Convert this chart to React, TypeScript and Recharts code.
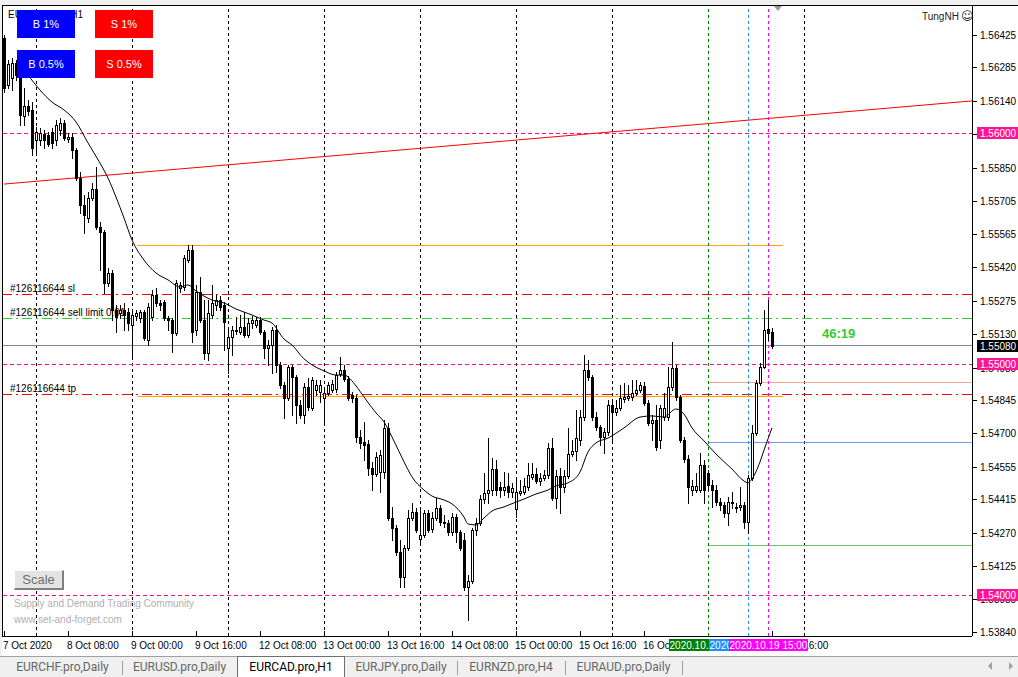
import React from 'react'
import { Bar, ComposedChart, Line, ReferenceLine, XAxis, YAxis } from 'recharts'

const FONT = '"Liberation Sans", Arial, sans-serif'

// EURCAD H1 bars, [open, high, low, close]
const oct07 = [
  [1.56412, 1.56425, 1.56179, 1.56196], [1.56209, 1.56317, 1.56196, 1.563], [1.56239, 1.56326, 1.56187, 1.56304],
  [1.56304, 1.56317, 1.56231, 1.56252], [1.56239, 1.56252, 1.56036, 1.56079], [1.56075, 1.56196, 1.56036, 1.56118],
  [1.56118, 1.56144, 1.56079, 1.56096], [1.56101, 1.56135, 1.55906, 1.55936],
]
const oct08 = [
  [1.55971, 1.56027, 1.55906, 1.56005], [1.55971, 1.56023, 1.55949, 1.56001], [1.55997, 1.56014, 1.55936, 1.55971],
  [1.55992, 1.56005, 1.55945, 1.55953], [1.56005, 1.56023, 1.55936, 1.55958], [1.55971, 1.56057, 1.55949, 1.56036],
  [1.56014, 1.56066, 1.55992, 1.56044], [1.56044, 1.56057, 1.55971, 1.55979], [1.55975, 1.56001, 1.55962, 1.55984],
  [1.55984, 1.56001, 1.55893, 1.55927], [1.55927, 1.55936, 1.55798, 1.55806], [1.55806, 1.55832, 1.55655, 1.55689],
  [1.55689, 1.55733, 1.55568, 1.55646], [1.55633, 1.55746, 1.55616, 1.5572], [1.5572, 1.55785, 1.55711, 1.55759],
  [1.55759, 1.55854, 1.55585, 1.55594], [1.55594, 1.55616, 1.55408, 1.55572], [1.55572, 1.55581, 1.55308, 1.55352],
  [1.55352, 1.55417, 1.55339, 1.55395], [1.55395, 1.55408, 1.55191, 1.55235], [1.55235, 1.55256, 1.55139, 1.55204],
  [1.55222, 1.55256, 1.552, 1.55235], [1.55235, 1.55265, 1.55148, 1.55213], [1.55226, 1.55243, 1.55148, 1.55178],
]
const oct09 = [
  [1.5517, 1.55226, 1.55027, 1.55213], [1.55209, 1.55235, 1.55191, 1.55222], [1.552, 1.55235, 1.55183, 1.55226],
  [1.55226, 1.55235, 1.55105, 1.55113], [1.55105, 1.55265, 1.55083, 1.55248], [1.55204, 1.55321, 1.55191, 1.553],
  [1.553, 1.5533, 1.55252, 1.55265], [1.55265, 1.55278, 1.55235, 1.55256], [1.55269, 1.55278, 1.55191, 1.552],
  [1.552, 1.55209, 1.55148, 1.55191], [1.55191, 1.552, 1.55053, 1.55135], [1.55135, 1.55365, 1.55126, 1.55352],
  [1.5533, 1.55356, 1.55313, 1.55343], [1.55334, 1.55473, 1.55321, 1.5546], [1.55451, 1.55516, 1.55443, 1.55494],
  [1.55494, 1.55516, 1.55096, 1.55139], [1.55148, 1.55343, 1.55126, 1.55313], [1.55313, 1.55378, 1.55183, 1.55191],
  [1.55191, 1.55278, 1.55023, 1.55049], [1.55049, 1.55278, 1.55018, 1.55222], [1.55213, 1.55343, 1.552, 1.55265],
  [1.55256, 1.553, 1.55235, 1.55278], [1.55278, 1.55295, 1.55235, 1.55248], [1.55256, 1.55269, 1.55061, 1.55183],
]
const oct12 = [
  [1.5507, 1.55157, 1.54962, 1.55118], [1.55118, 1.55165, 1.5504, 1.55148], [1.55144, 1.55204, 1.55131, 1.55148],
  [1.55139, 1.55213, 1.55131, 1.55161], [1.55161, 1.55226, 1.55118, 1.55126], [1.55126, 1.552, 1.55118, 1.55178],
  [1.55178, 1.55209, 1.55157, 1.55191], [1.5517, 1.55204, 1.55161, 1.55191], [1.55191, 1.55204, 1.55131, 1.55139],
  [1.55139, 1.55148, 1.55027, 1.5507], [1.5507, 1.55105, 1.54997, 1.55083], [1.55083, 1.55161, 1.54962, 1.55148],
  [1.55148, 1.5517, 1.54966, 1.54997], [1.54997, 1.5501, 1.54897, 1.5491], [1.5491, 1.54923, 1.54767, 1.54854],
  [1.54854, 1.54997, 1.54845, 1.54988], [1.54988, 1.54997, 1.5478, 1.54945], [1.54945, 1.54953, 1.54745, 1.54823],
  [1.54823, 1.54845, 1.54767, 1.5478], [1.5478, 1.54919, 1.54745, 1.54901], [1.54901, 1.5494, 1.54802, 1.54815],
  [1.5481, 1.54945, 1.54802, 1.54932], [1.54888, 1.54932, 1.54867, 1.5491], [1.5488, 1.54932, 1.54836, 1.5491],
]
const oct13 = [
  [1.54854, 1.54897, 1.5475, 1.54875], [1.54875, 1.54923, 1.54867, 1.5491], [1.54888, 1.54932, 1.5488, 1.54914],
  [1.54893, 1.54966, 1.5488, 1.54953], [1.54958, 1.55031, 1.54949, 1.54975], [1.54975, 1.54997, 1.54927, 1.54936],
  [1.54936, 1.54949, 1.54845, 1.54854], [1.54867, 1.5488, 1.54836, 1.54854], [1.54854, 1.54867, 1.54663, 1.54685],
  [1.54685, 1.54715, 1.54637, 1.54659], [1.54663, 1.5475, 1.54585, 1.5465], [1.54654, 1.54672, 1.5452, 1.54551],
  [1.54551, 1.54577, 1.54455, 1.54525], [1.54525, 1.5462, 1.54516, 1.54598], [1.54533, 1.54628, 1.54447, 1.54607],
  [1.54533, 1.54758, 1.54507, 1.54724], [1.54724, 1.54745, 1.54325, 1.54334], [1.54334, 1.54382, 1.54239, 1.54291],
  [1.54291, 1.54304, 1.54174, 1.54187], [1.54187, 1.54239, 1.54035, 1.54079], [1.54079, 1.54217, 1.54035, 1.54204],
  [1.54204, 1.54369, 1.54195, 1.54334], [1.54334, 1.54399, 1.54325, 1.5436], [1.5436, 1.54377, 1.54273, 1.54282],
]
const oct14 = [
  [1.54243, 1.54369, 1.54217, 1.5426], [1.5426, 1.54369, 1.54252, 1.54356], [1.54356, 1.54369, 1.54273, 1.54282],
  [1.54286, 1.5436, 1.54273, 1.54334], [1.54334, 1.54421, 1.54325, 1.54377], [1.54377, 1.5439, 1.54304, 1.54317],
  [1.54317, 1.54347, 1.54295, 1.54312], [1.54312, 1.54325, 1.5426, 1.54273], [1.54273, 1.54356, 1.5426, 1.54338],
  [1.54338, 1.54351, 1.5423, 1.54273], [1.54273, 1.54282, 1.54195, 1.54204], [1.54239, 1.54269, 1.54022, 1.54035],
  [1.54035, 1.54087, 1.53892, 1.54061], [1.54061, 1.54291, 1.54053, 1.54282], [1.54282, 1.54334, 1.5426, 1.54312],
  [1.54312, 1.54434, 1.54304, 1.54416], [1.54416, 1.54529, 1.54399, 1.54442], [1.54442, 1.5468, 1.54399, 1.54455],
  [1.54455, 1.54594, 1.54434, 1.54546], [1.54546, 1.54585, 1.54434, 1.54455], [1.54468, 1.5449, 1.54425, 1.54455],
  [1.54455, 1.54533, 1.54434, 1.54468], [1.54473, 1.54529, 1.54425, 1.54447], [1.54447, 1.54486, 1.54425, 1.54464],
]
const oct15 = [
  [1.54373, 1.54503, 1.54338, 1.54447], [1.54442, 1.54499, 1.54434, 1.54451], [1.54447, 1.54507, 1.54438, 1.54473],
  [1.54468, 1.54572, 1.54455, 1.5452], [1.54512, 1.54572, 1.54503, 1.54525], [1.54525, 1.54551, 1.54486, 1.54494],
  [1.54494, 1.54529, 1.54477, 1.54507], [1.54507, 1.54542, 1.54499, 1.5452], [1.5452, 1.54659, 1.54507, 1.54637],
  [1.54637, 1.5468, 1.54412, 1.54421], [1.54421, 1.54542, 1.54377, 1.54516], [1.54516, 1.54551, 1.54356, 1.54468],
  [1.54468, 1.54542, 1.54447, 1.54516], [1.54516, 1.54724, 1.54507, 1.54611], [1.54611, 1.54672, 1.54603, 1.54624],
  [1.54624, 1.54802, 1.54585, 1.5468], [1.54672, 1.54802, 1.5465, 1.54771], [1.54771, 1.5504, 1.54758, 1.54975],
  [1.54975, 1.55018, 1.54932, 1.54945], [1.54945, 1.54953, 1.54758, 1.54771], [1.54771, 1.54793, 1.54715, 1.54728],
  [1.54728, 1.54737, 1.5465, 1.54685], [1.54685, 1.54724, 1.54616, 1.54706], [1.54706, 1.54845, 1.54693, 1.54823],
]
const oct16 = [
  [1.54823, 1.54836, 1.54672, 1.54793], [1.54793, 1.54845, 1.5478, 1.5481], [1.5481, 1.5491, 1.54802, 1.54854],
  [1.54849, 1.54919, 1.54836, 1.54858], [1.54854, 1.5491, 1.54845, 1.54862], [1.54858, 1.54932, 1.54845, 1.54875],
  [1.54875, 1.54932, 1.54867, 1.54888], [1.54888, 1.54923, 1.5488, 1.5491], [1.54906, 1.54923, 1.54823, 1.54832],
  [1.54832, 1.54845, 1.54737, 1.54745], [1.54745, 1.5478, 1.54672, 1.54758], [1.54758, 1.54823, 1.54628, 1.54641],
  [1.54672, 1.54823, 1.54637, 1.5481], [1.54771, 1.54875, 1.54758, 1.5481], [1.54771, 1.54988, 1.54758, 1.54901],
  [1.54901, 1.55096, 1.54888, 1.54984], [1.54984, 1.54997, 1.54845, 1.54858], [1.54858, 1.54867, 1.54663, 1.54672],
  [1.54672, 1.54685, 1.54577, 1.5459], [1.5459, 1.54607, 1.54399, 1.54468], [1.54455, 1.54499, 1.54434, 1.54473],
  [1.54455, 1.54529, 1.54447, 1.54473], [1.54455, 1.54616, 1.54447, 1.54564], [1.54564, 1.54585, 1.54399, 1.54455],
]
const oct19 = [
  [1.54529, 1.54542, 1.54455, 1.54477], [1.54477, 1.54499, 1.54382, 1.54455], [1.54455, 1.54477, 1.5439, 1.54403],
  [1.54403, 1.54421, 1.54369, 1.5439], [1.5439, 1.54403, 1.54338, 1.54356], [1.54356, 1.54425, 1.54304, 1.54403],
  [1.54399, 1.54447, 1.54377, 1.54403], [1.54382, 1.54399, 1.5436, 1.54377], [1.54382, 1.54468, 1.54369, 1.5439],
  [1.5439, 1.54403, 1.54291, 1.54317], [1.54317, 1.5452, 1.54269, 1.54507], [1.54507, 1.54737, 1.54499, 1.54702],
  [1.54702, 1.54932, 1.54693, 1.54919], [1.54919, 1.55005, 1.5491, 1.54988], [1.54988, 1.55235, 1.54984, 1.55148],
  [1.55152, 1.55278, 1.55105, 1.55135], [1.55139, 1.55157, 1.5507, 1.5508],
]

// moving average: [bar index, value]
const maReadings = [
  [6, 1.56252], [9, 1.56187], [12, 1.56135], [15, 1.56101], [18, 1.56049], [21, 1.55958], [24, 1.55871],
  [26, 1.55806], [28, 1.55724], [30, 1.55633], [32, 1.55538], [35, 1.55451], [38, 1.55395], [41, 1.55365],
  [44, 1.55334], [46, 1.55343], [48, 1.55317], [52, 1.55278], [55, 1.55265], [58, 1.55239], [62, 1.55213],
  [65, 1.55191], [67, 1.55178], [70, 1.55109], [72, 1.55083], [75, 1.55023], [77, 1.54997], [80, 1.54971],
  [83, 1.54953], [85, 1.54953], [88, 1.54906], [90, 1.54858], [93, 1.54789], [95, 1.5475], [97, 1.54685],
  [100, 1.54577], [102, 1.54512], [105, 1.54455], [107, 1.54429], [110, 1.54412], [112, 1.54395], [115, 1.54338],
  [116, 1.54308], [118, 1.54304], [120, 1.54334], [122, 1.54364], [125, 1.54382], [128, 1.54403], [130, 1.54416],
  [133, 1.54438], [136, 1.54455], [138, 1.54473], [141, 1.54486], [144, 1.54533], [146, 1.5462], [148, 1.54659],
  [151, 1.5468], [155, 1.54724], [159, 1.54771], [162, 1.54776], [165, 1.54771], [168, 1.54806], [170, 1.54784],
  [172, 1.54724], [175, 1.54668], [178, 1.54611], [182, 1.54546], [185, 1.54494], [186, 1.54486], [187, 1.54503],
  [189, 1.54577], [190, 1.54628], [192, 1.54724],
]

const timeTicks = [
  { i: 0, label: '7 Oct 2020' }, { i: 16, label: '8 Oct 08:00' }, { i: 32, label: '9 Oct 00:00' },
  { i: 48, label: '9 Oct 16:00' }, { i: 64, label: '12 Oct 08:00' }, { i: 80, label: '13 Oct 00:00' },
  { i: 96, label: '13 Oct 16:00' }, { i: 112, label: '14 Oct 08:00' }, { i: 128, label: '15 Oct 00:00' },
  { i: 144, label: '15 Oct 16:00' }, { i: 160, label: '16 Oct 08:00' }, { i: 176, label: '19 Oct 00:00' },
  { i: 192, label: '19 Oct 16:00' },
]
const priceTicks = [
  1.56425, 1.56285, 1.5614, 1.55995, 1.5585, 1.55705, 1.55565, 1.5542, 1.55275, 1.5513,
  1.54985, 1.54845, 1.547, 1.54555, 1.54415, 1.5427, 1.54125, 1.53985, 1.5384,
]
const priceTags = [
  { v: 1.56, bg: '#ff1493' },
  { v: 1.55, bg: '#ff1493' },
  { v: 1.54, bg: '#ff1493' },
  { v: 1.5508, bg: '#000' },
]
const daySeparators = [8, 32, 56, 80, 104, 128, 152, 200]
const roundLevels = [1.56, 1.55, 1.54]
const bidPrice = 1.5508
const slPrice = 1.553
const sellLimitPrice = 1.55196
const tpPrice = 1.54867
const trendLine = [{ x: 0, y: 1.5578 }, { x: 242, y: 1.5614 }]
const fullSpan = [-0.25, 242]
const zoneLevels = [1.55516, 1.54858]
const zoneSpan = [33.25, 194.75]
const rightLevels = [
  { y: 1.54919, color: '#f4a490' },
  { y: 1.54659, color: '#6d9eeb' },
  { y: 1.54217, color: '#6fc26f' },
]
const rightSpan = [176, 242]
const events = [
  { i: 176, label: '2020.10.19 00:00', color: '#008000' },
  { i: 186, label: '2020.10.19 10:00', color: '#1e90ff' },
  { i: 191, label: '2020.10.19 15:00', color: '#ff00ff' },
]
const tabs = ['EURCHF.pro,Daily', 'EURUSD.pro,Daily', 'EURCAD.pro,H1', 'EURJPY.pro,Daily', 'EURNZD.pro,H4', 'EURAUD.pro,Daily']
const activeTab = 2

const maMap = new Map(maReadings.map(([i, v]) => [i, v]))
const data = [oct07, oct08, oct09, oct12, oct13, oct14, oct15, oct16, oct19]
  .flat()
  .map((b, i) => ({ i, o: b[0], h: b[1], l: b[2], c: b[3], ma: maMap.get(i) ?? null }))

// labels first, event boxes last so they paint over the labels
const xTicks = [
  ...timeTicks.filter((t) => !events.some((e) => e.i === t.i)).map((t) => t.i),
  ...events.map((e) => e.i),
]
const yTicks = [...priceTicks, ...priceTags.map((t) => t.v)]

const Candle = (props: any) => {
  const { x, width, y, height, payload } = props
  const { o, h, l, c } = payload
  const cx = Math.round(x + width / 2)
  const span = h - l || 1e-9
  const py = (v: number) => y + ((h - v) / span) * height
  const top = Math.round(py(Math.max(o, c)))
  const bot = Math.round(py(Math.min(o, c)))
  return (
    <g shapeRendering="crispEdges">
      <line x1={cx + 0.5} x2={cx + 0.5} y1={Math.round(y)} y2={Math.round(y + height) + 1} stroke="#000" />
      <rect x={cx - 0.5} y={top + 0.5} width={2} height={Math.max(bot - top, 1)} fill={c >= o ? '#fff' : '#000'} stroke="#000" />
    </g>
  )
}

const TimeTick = ({ x, y, payload }: any) => {
  const px = Math.round(x)
  const ev = events.find((e) => e.i === payload.value)
  if (ev) {
    return (
      <g>
        <rect x={px - 39} y={y + 3} width={79} height={12} fill={ev.color} />
        <text x={px + 0.5} y={y + 13} textAnchor="middle" fontSize={10} fontFamily={FONT} fill="#fff">{ev.label}</text>
      </g>
    )
  }
  const t = timeTicks.find((d) => d.i === payload.value)
  return (
    <g>
      <line x1={px + 0.5} x2={px + 0.5} y1={y - 5} y2={y} stroke="#000" shapeRendering="crispEdges" />
      <text x={px - 1} y={y + 13} fontSize={10} fontFamily={FONT} fill="#000">{t ? t.label : ''}</text>
    </g>
  )
}

const PriceTick = ({ x, y, payload }: any) => {
  const py = Math.round(y)
  const tag = priceTags.find((t) => t.v === payload.value)
  if (tag) {
    return (
      <g>
        <rect x={x + 5} y={py - 6} width={42} height={12} fill={tag.bg} />
        <text x={x + 8} y={py + 4} fontSize={10} fontFamily={FONT} fill="#fff">{Number(payload.value).toFixed(5)}</text>
      </g>
    )
  }
  return (
    <g>
      <line x1={x} x2={x + 5} y1={py + 0.5} y2={py + 0.5} stroke="#000" shapeRendering="crispEdges" />
      <text x={x + 8} y={py + 4} fontSize={10} fontFamily={FONT} fill="#000">{Number(payload.value).toFixed(5)}</text>
    </g>
  )
}

const orderNote = (text: string) => (p: any) => (
  <text x={p.viewBox.x + 7} y={Math.round(p.viewBox.y) - 3} fontSize={10} fontFamily={FONT} fill="#000">{text}</text>
)

const abs = (s: React.CSSProperties): React.CSSProperties => ({ position: 'absolute', ...s })

const TradeButton = ({ left, top, color, text }: { left: number, top: number, color: string, text: string }) => (
  <div style={abs({ left, top, width: 58, height: 28, background: color, color: '#fff', fontSize: 11, fontFamily: FONT, display: 'flex', alignItems: 'center', justifyContent: 'center' })}>{text}</div>
)

const tabLefts = [3, 122, 237, 345, 457, 565, 682]

export default function App() {
  return (
    <div style={abs({ left: 0, top: 0, width: 1018, height: 677, background: '#fff', overflow: 'hidden' })}>
      <ComposedChart width={1018} height={677} data={data} margin={{ top: 6, right: 0, bottom: 21, left: 3 }}>
        <XAxis dataKey="i" type="number" domain={[-0.25, 242]} allowDataOverflow ticks={xTicks}
          interval={0} height={20} tickLine={false} tickSize={0} tickMargin={0} tick={(p: any) => <TimeTick {...p} />}
          axisLine={{ stroke: '#000', shapeRendering: 'crispEdges' }} />
        <YAxis orientation="right" width={46} domain={[1.53823, 1.56551]} allowDataOverflow ticks={yTicks}
          interval={0} tickLine={false} tickSize={0} tickMargin={0} tick={(p: any) => <PriceTick {...p} />}
          axisLine={{ stroke: '#000', shapeRendering: 'crispEdges' }} />

        {daySeparators.map((i) => (
          <ReferenceLine key={'d' + i} x={i} stroke="#000" strokeDasharray="3 3" shapeRendering="crispEdges" zIndex={100} />
        ))}
        {roundLevels.map((v) => (
          <ReferenceLine key={'r' + v} segment={[{ x: fullSpan[0], y: v }, { x: fullSpan[1], y: v }]} stroke="#ff0a8c"
            strokeWidth={1} strokeDasharray="4 3" shapeRendering="crispEdges" zIndex={100} />
        ))}
        <ReferenceLine segment={trendLine} stroke="#ff0000" zIndex={100} />
        {zoneLevels.map((v) => (
          <ReferenceLine key={'z' + v} segment={[{ x: zoneSpan[0], y: v }, { x: zoneSpan[1], y: v }]} stroke="#ffa500"
            shapeRendering="crispEdges" zIndex={100} />
        ))}
        {rightLevels.map((r) => (
          <ReferenceLine key={'rl' + r.y} segment={[{ x: rightSpan[0], y: r.y }, { x: rightSpan[1], y: r.y }]} stroke={r.color}
            shapeRendering="crispEdges" zIndex={100} />
        ))}
        <ReferenceLine y={slPrice} stroke="#ff0000" strokeDasharray="10 4 2 4" shapeRendering="crispEdges" zIndex={100}
          label={orderNote('#126116644 sl')} />
        <ReferenceLine y={sellLimitPrice} stroke="#32cd32" strokeDasharray="10 4 2 4" shapeRendering="crispEdges" zIndex={100}
          label={orderNote('#126116644 sell limit 0.01')} />
        <ReferenceLine y={tpPrice} stroke="#ff0000" strokeDasharray="10 4 2 4" shapeRendering="crispEdges" zIndex={100}
          label={orderNote('#126116644 tp')} />
        <ReferenceLine y={bidPrice} stroke="#778899" shapeRendering="crispEdges" zIndex={100} />
        {events.map((e) => (
          <ReferenceLine key={'e' + e.i} x={e.i} stroke={e.color} strokeDasharray="3 3" shapeRendering="crispEdges" zIndex={100} />
        ))}

        <Bar dataKey={(d: any) => [d.l, d.h]} shape={Candle} barSize={3} isAnimationActive={false} />
        <Line dataKey="ma" type="monotone" stroke="#000" strokeWidth={1} dot={false} activeDot={false}
          connectNulls isAnimationActive={false} />
      </ComposedChart>

      {/* window frame */}
      <div style={abs({ left: 0, top: 0, width: 1018, height: 5, background: '#f0f0f0' })} />
      <div style={abs({ left: 2, top: 5, width: 1016, height: 1, background: '#000' })} />
      <div style={abs({ left: 0, top: 0, width: 2, height: 657, background: '#f0f0f0' })} />
      <div style={abs({ left: 2, top: 5, width: 1, height: 632, background: '#000' })} />
      <div style={abs({ left: 774, top: 6, width: 0, height: 0, borderLeft: '4px solid transparent', borderRight: '4px solid transparent', borderTop: '5px solid #999' })} />

      <div style={abs({ left: 8, top: 9, fontSize: 10, fontFamily: FONT, color: '#000' })}>EURCAD.pro,H1</div>
      <TradeButton left={17} top={10} color="#0000ff" text="B 1%" />
      <TradeButton left={95} top={10} color="#ff0000" text="S 1%" />
      <TradeButton left={17} top={50} color="#0000ff" text="B 0.5%" />
      <TradeButton left={95} top={50} color="#ff0000" text="S 0.5%" />

      <div style={abs({ left: 922, top: 9, fontSize: 10, fontFamily: FONT, color: '#222', whiteSpace: 'nowrap' })}>
        TungNH<span style={{ fontFamily: '"DejaVu Sans"', fontSize: 12, marginLeft: 2 }}>☺</span>
      </div>
      <div style={abs({ left: 822, top: 326, fontSize: 13, fontWeight: 'bold', fontFamily: FONT, color: '#32cd32' })}>46:19</div>

      <div style={abs({ left: 14, top: 570, width: 47, height: 17, background: '#e4e4e4', borderTop: '1px solid #fff', borderLeft: '1px solid #fff', borderRight: '2px solid #808080', borderBottom: '2px solid #808080', color: '#707070', fontSize: 13, fontFamily: FONT, display: 'flex', alignItems: 'center', justifyContent: 'center' })}>Scale</div>
      <div style={abs({ left: 14, top: 598, fontSize: 10, fontFamily: FONT, color: '#b0b0b0', whiteSpace: 'nowrap' })}>Supply and Demand Trading Community</div>
      <div style={abs({ left: 14, top: 614, fontSize: 10, fontFamily: FONT, color: '#b0b0b0', whiteSpace: 'nowrap' })}>www.set-and-forget.com</div>

      {/* symbol tabs */}
      <div style={abs({ left: 0, top: 656, width: 1018, height: 21, background: '#f0f0f0', borderTop: '1px solid #a0a0a0' })} />
      {tabs.map((t, k) => (
        <div key={t} style={abs({
          left: tabLefts[k], top: k === activeTab ? 656 : 657, width: tabLefts[k + 1] - tabLefts[k], height: k === activeTab ? 21 : 20,
          boxSizing: 'border-box', background: k === activeTab ? '#fff' : 'transparent',
          border: k === activeTab ? '1px solid #707070' : 'none', borderBottom: 'none',
          color: k === activeTab ? '#000' : '#666', fontSize: 12, fontFamily: 'Roboto, sans-serif',
          display: 'flex', alignItems: 'center', justifyContent: 'center', whiteSpace: 'nowrap',
        })}>{t}</div>
      ))}
      {[122, 457, 565, 682].map((x) => (
        <div key={x} style={abs({ left: x, top: 661, width: 1, height: 14, background: '#a0a0a0' })} />
      ))}
      <div style={abs({ left: 988, top: 662, width: 0, height: 0, borderTop: '4px solid transparent', borderBottom: '4px solid transparent', borderRight: '4px solid #a0a0a0' })} />
      <div style={abs({ left: 1009, top: 662, width: 0, height: 0, borderTop: '4px solid transparent', borderBottom: '4px solid transparent', borderLeft: '4px solid #a0a0a0' })} />
    </div>
  )
}
